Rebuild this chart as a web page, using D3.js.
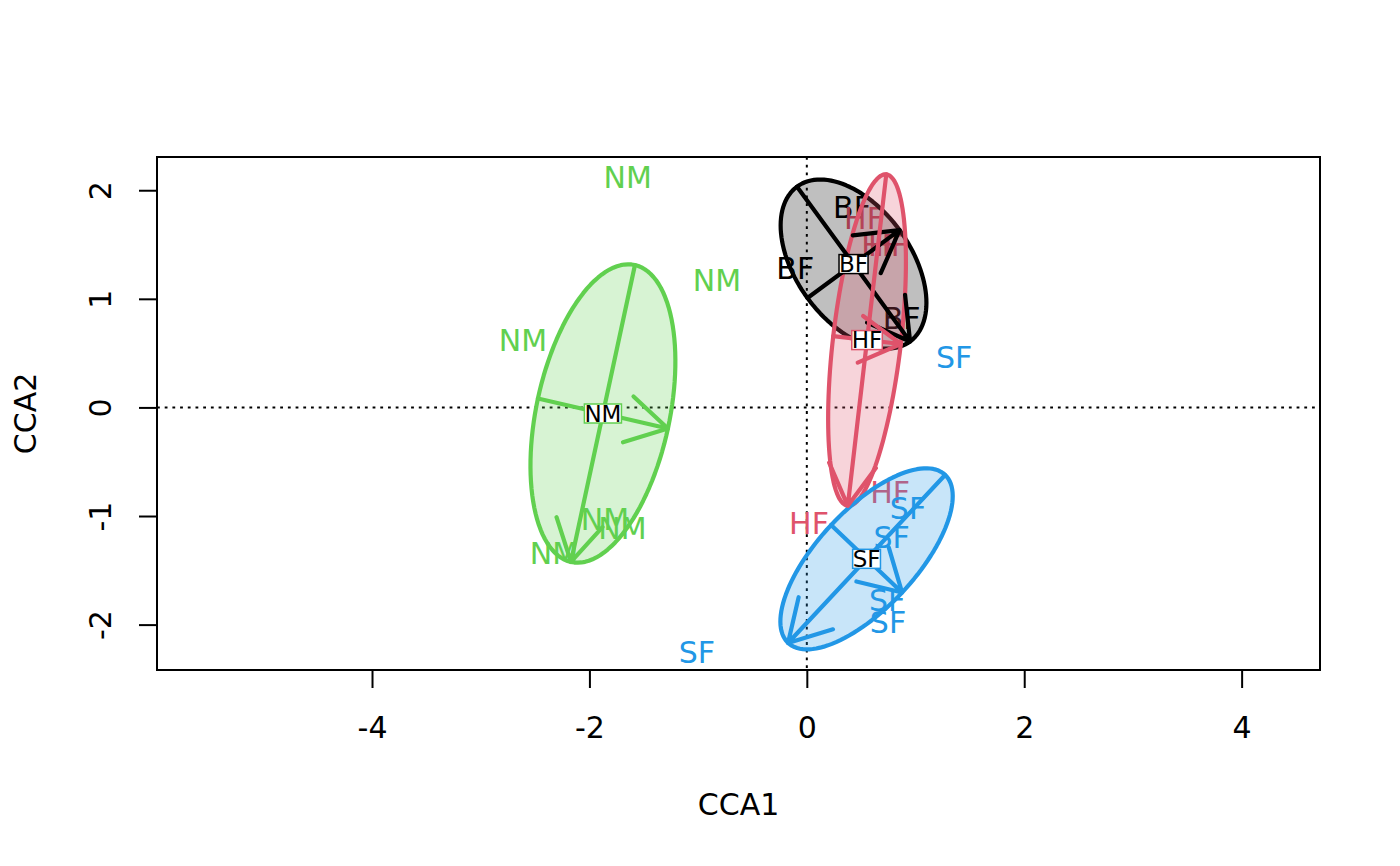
<!DOCTYPE html>
<html><head><meta charset="utf-8">
<script src="https://cdn.jsdelivr.net/npm/d3@7"></script>
<style>body{margin:0;background:#fff} svg{display:block}</style>
</head><body>
<svg id="chart" width="1400" height="866"></svg>
<script>
// ---- data ----
const xTicks = [-4, -2, 0, 2, 4];
const yTicks = [-2, -1, 0, 1, 2];
const xDomain = [-5.978, 4.721];
const yDomain = [-2.418, 2.306];
const xTitle = "CCA1";
const yTitle = "CCA2";

const groups = ["BF", "HF", "NM", "SF"];
const groupColors = ["#000000", "#DF536B", "#61D04F", "#2297E6"];

// site (WA) scores shown as text labels
const siteGroup = ["BF","BF","BF",
  "HF","HF","HF","HF","HF",
  "NM","NM","NM","NM","NM","NM",
  "SF","SF","SF","SF","SF","SF"];
const siteCCA1 = [0.416, -0.106, 0.873,
  0.526, 0.683, 0.747, 0.020, 0.767,
  -1.648, -0.826, -2.612, -1.857, -1.696, -2.327,
  1.355, -1.011, 0.931, 0.780, 0.738, 0.747];
const siteCCA2 = [1.847, 1.286, 0.820,
  1.743, 1.495, 1.495, -1.069, -0.776,
  2.121, 1.173, 0.616, -1.027, -1.110, -1.340,
  0.468, -2.251, -0.926, -1.190, -1.773, -1.975];

// fitted points joined by arrows (two per group, along the ellipse axes)
const arrowGroup = ["BF","BF","HF","HF","NM","NM","SF","SF"];
const arrowFrom1 = [0.006, -0.090, 0.243, 0.731, -2.474, -1.581, 0.223, 1.272];
const arrowFrom2 = [1.007, 2.033, 0.656, 2.146, 0.082, 1.311, -1.082, -0.622];
const arrowTo1   = [0.853, 0.950, 0.865, 0.377, -1.278, -2.170, 0.876, -0.173];
const arrowTo2   = [1.633, 0.607, 0.584, -0.906, -0.194, -1.423, -1.704, -2.169];

// ---- drawing ----
const W = 1400, H = 866;
const L = 157, R = 1320, T = 157, B = 670;
const FONT = "DejaVu Sans, Liberation Sans, sans-serif";
const FS = 30, FS_C = 23;
const LW = 4.2;
const svg = d3.select("#chart");
svg.append("rect").attr("width", W).attr("height", H).attr("fill", "#fff");

const x = d3.scaleLinear().domain(xDomain).range([L, R]);
const y = d3.scaleLinear().domain(yDomain).range([B, T]);
const colorOf = d3.scaleOrdinal().domain(groups).range(groupColors);

// reference dotted lines
svg.append("line").attr("x1", x(0)).attr("x2", x(0)).attr("y1", T).attr("y2", B)
  .attr("stroke", "#000").attr("stroke-width", 2).attr("stroke-dasharray", "2.8,4.9");
svg.append("line").attr("x1", L).attr("x2", R).attr("y1", y(0)).attr("y2", y(0))
  .attr("stroke", "#000").attr("stroke-width", 2).attr("stroke-dasharray", "2.8,4.9");

// site labels
const capHalf = 0.729 * FS / 2;
svg.append("g").selectAll("text").data(siteGroup.map((g, i) => ({g, cx: siteCCA1[i], cy: siteCCA2[i]})))
  .join("text")
  .attr("x", d => x(d.cx)).attr("y", d => y(d.cy) + capHalf)
  .attr("text-anchor", "middle").attr("font-family", FONT).attr("font-size", FS)
  .attr("fill", d => colorOf(d.g)).text(d => d.g);

// arrows per group
const arrows = arrowGroup.map((g, i) => ({g,
  x0: arrowFrom1[i], y0: arrowFrom2[i], x1: arrowTo1[i], y1: arrowTo2[i]}));

// ellipses
const lineGen = d3.line().x(d => d[0]).y(d => d[1]).curve(d3.curveLinearClosed);
const centroids = {};
groups.forEach(g => {
  const a = arrows.filter(d => d.g === g);
  const pts = [];
  a.forEach(d => { pts.push([d.x0, d.y0]); pts.push([d.x1, d.y1]); });
  const cx = d3.mean(pts, p => p[0]), cy = d3.mean(pts, p => p[1]);
  centroids[g] = [cx, cy];
  const u = [(a[0].x1 - a[0].x0) / 2, (a[0].y1 - a[0].y0) / 2];
  const v = [(a[1].x1 - a[1].x0) / 2, (a[1].y1 - a[1].y0) / 2];
  const poly = d3.range(0, 2 * Math.PI, Math.PI / 60).map(t => [
    x(cx + u[0] * Math.cos(t) + v[0] * Math.sin(t)),
    y(cy + u[1] * Math.cos(t) + v[1] * Math.sin(t))]);
  svg.append("path").attr("d", lineGen(poly))
    .attr("fill", colorOf(g)).attr("fill-opacity", 0.25)
    .attr("stroke", colorOf(g)).attr("stroke-width", LW).attr("stroke-linejoin", "round");
});

// arrows
const AL = 47, ANG = Math.PI / 6;
const ag = svg.append("g").attr("fill", "none").attr("stroke-width", LW)
  .attr("stroke-linecap", "round").attr("stroke-linejoin", "round");
arrows.forEach(d => {
  const px0 = x(d.x0), py0 = y(d.y0), px1 = x(d.x1), py1 = y(d.y1);
  const th = Math.atan2(py0 - py1, px0 - px1);
  const b1 = [px1 + AL * Math.cos(th + ANG), py1 + AL * Math.sin(th + ANG)];
  const b2 = [px1 + AL * Math.cos(th - ANG), py1 + AL * Math.sin(th - ANG)];
  ag.append("path").attr("stroke", colorOf(d.g))
    .attr("d", `M${px0},${py0}L${px1},${py1}M${b1[0]},${b1[1]}L${px1},${py1}L${b2[0]},${b2[1]}`);
});

// centroid labels
groups.forEach(g => {
  const [cx, cy] = centroids[g];
  const gg = svg.append("g");
  const rect = gg.append("rect");
  const t = gg.append("text").attr("x", x(cx)).attr("y", y(cy) + 0.729 * FS_C / 2)
    .attr("text-anchor", "middle").attr("font-family", FONT).attr("font-size", FS_C)
    .attr("fill", "#000").text(g);
  const w = t.node().getComputedTextLength();
  const h = 19;
  rect.attr("x", x(cx) - w / 2).attr("y", y(cy) - h / 2).attr("width", w).attr("height", h)
    .attr("fill", "#fff").attr("stroke", colorOf(g)).attr("stroke-width", 1.5);
});

// axes
const fmt = d => String(d);
const xa = svg.append("g").attr("transform", `translate(0,${B})`)
  .call(d3.axisBottom(x).tickValues(xTicks).tickSize(18).tickFormat(fmt));
xa.select(".domain").remove();
xa.selectAll("line").attr("stroke", "#000").attr("stroke-width", 2);
xa.selectAll("text").attr("y", 57 + capHalf).attr("dy", null)
  .attr("font-family", FONT).attr("font-size", FS).attr("fill", "#000");

const ya = svg.append("g").attr("transform", `translate(${L},0)`)
  .call(d3.axisLeft(y).tickValues(yTicks).tickSize(18).tickFormat(fmt));
ya.select(".domain").remove();
ya.selectAll("line").attr("stroke", "#000").attr("stroke-width", 2);
ya.selectAll("text").attr("x", null).attr("dy", null).attr("y", 0)
  .attr("transform", "translate(-46,0) rotate(-90)").attr("text-anchor", "middle")
  .attr("font-family", FONT).attr("font-size", FS).attr("fill", "#000");

// box
svg.append("rect").attr("x", L).attr("y", T).attr("width", R - L).attr("height", B - T)
  .attr("fill", "none").attr("stroke", "#000").attr("stroke-width", 2);

// titles
svg.append("text").attr("x", (L + R) / 2).attr("y", 804.5 + capHalf)
  .attr("text-anchor", "middle").attr("font-family", FONT).attr("font-size", FS).text(xTitle);
svg.append("text").attr("transform", `translate(${25 + capHalf},${(T + B) / 2}) rotate(-90)`)
  .attr("text-anchor", "middle").attr("font-family", FONT).attr("font-size", FS).text(yTitle);
</script>
</body></html>
